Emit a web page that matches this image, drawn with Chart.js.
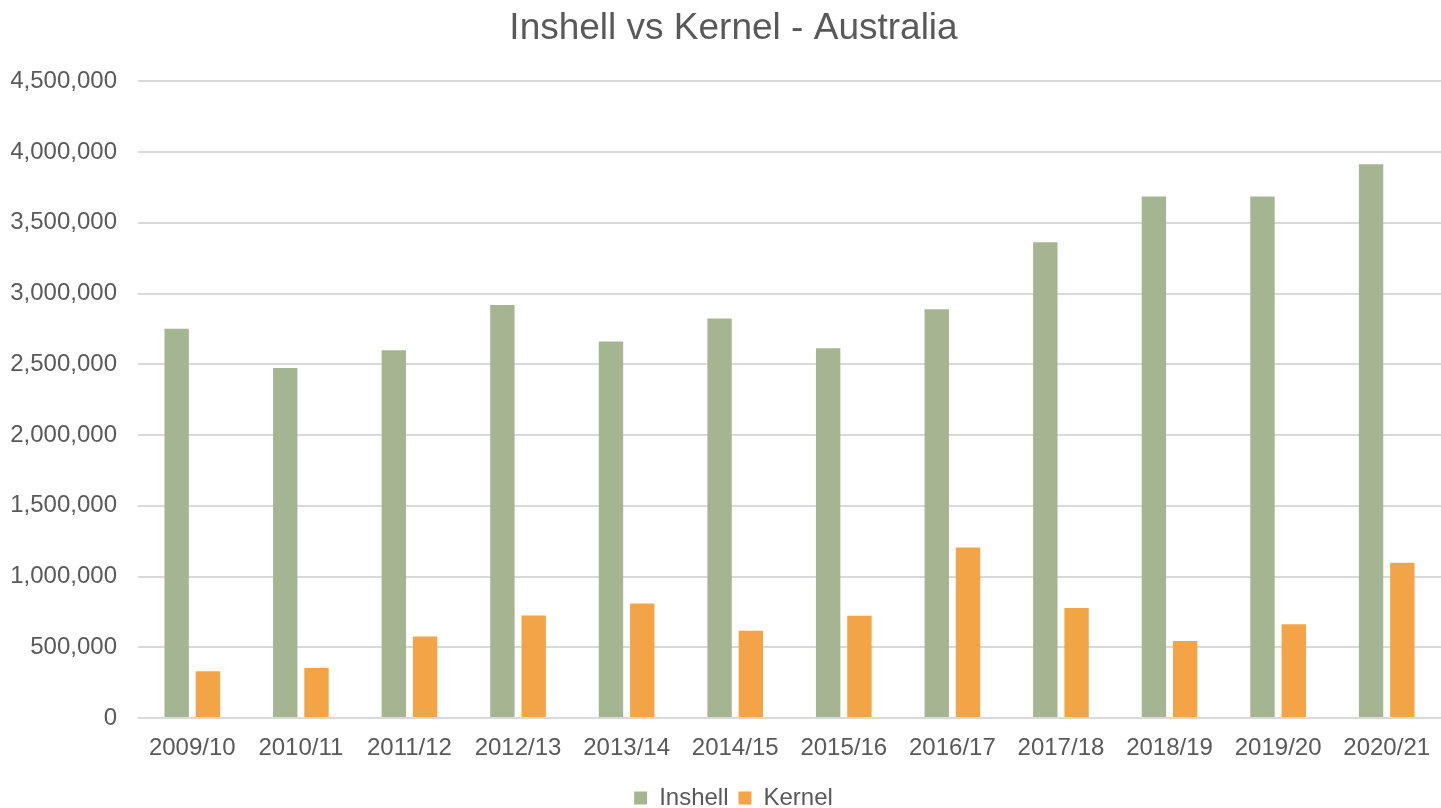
<!DOCTYPE html>
<html>
<head>
<meta charset="utf-8">
<script src="https://cdn.jsdelivr.net/npm/chart.js@4/dist/chart.umd.min.js"></script>
<style>
  html, body { margin: 0; padding: 0; background: #fff; }
  #wrap { position: relative; width: 1441px; height: 808px; }
</style>
</head>
<body>
<div id="wrap"><canvas id="chartBar"></canvas></div>
<script>
var seasons = ["2009/10", "2010/11", "2011/12", "2012/13", "2013/14", "2014/15",
               "2015/16", "2016/17", "2017/18", "2018/19", "2019/20", "2020/21"];
var inshell = [2752000, 2474000, 2599000, 2919000, 2661000, 2824000,
               2613000, 2889000, 3363000, 3686000, 3686000, 3915000];
var kernel = [331000, 354000, 576000, 724000, 809000, 616000,
              722000, 1206000, 777000, 545000, 663000, 1098000];
var yMax = 4500000;
var yStep = 500000;

var textColor = "#595959";
var gridColor = "#d9d9d9";
Chart.defaults.font.family = "'Liberation Sans', Arial, sans-serif";

var ctx = document.getElementById("chartBar").getContext("2d");

const chartBar = new Chart(ctx, {
    type: "bar",
    data: {
    labels: seasons,
    datasets: [
        {
        label: "Inshell",
        data: inshell,
        backgroundColor: "#a5b592",
        categoryPercentage: 0.576,
        barPercentage: 0.78,
        },
        {
        label: "Kernel",
        data: kernel,
        backgroundColor: "#f3a447",
        categoryPercentage: 0.576,
        barPercentage: 0.78,
        },
    ],
    },
    options: {
    responsive: true,
    maintainAspectRatio: false,
    animation: false,
    layout: {
        padding: { left: 11, right: -15, top: 0, bottom: -12 },
    },
    plugins: {
        title: {
        display: true,
        text: "Inshell vs Kernel - Australia",
        color: textColor,
        font: { size: 37, weight: "normal" },
        padding: { top: 7, bottom: 30 },
        },
        legend: {
        display: true,
        position: "bottom",
        labels: {
            color: textColor,
            font: { size: 24 },
            boxWidth: 13,
            boxHeight: 13,
            padding: 10,
        },
        },
        tooltip: { enabled: false },
    },
    scales: {
        y: {
        min: 0,
        max: yMax,
        afterFit: function (s) { s.width = 127; },
        grid: {
            color: gridColor,
            lineWidth: 2,
            drawTicks: false,
        },
        border: { display: false },
        ticks: {
            stepSize: yStep,
            color: textColor,
            font: { size: 24 },
            padding: 21,
            callback: function (v) { return v.toLocaleString("en-US"); },
        },
        },
        x: {
        afterFit: function (s) {
            s.height = 58;
            s.paddingLeft = 0;
            s.paddingRight = 0;
        },
        grid: { display: false, drawTicks: false },
        border: { display: false },
        ticks: {
            color: textColor,
            font: { size: 24 },
            padding: 16,
            maxRotation: 0,
            autoSkip: false,
        },
        },
    },
    },
});
</script>
</body>
</html>
